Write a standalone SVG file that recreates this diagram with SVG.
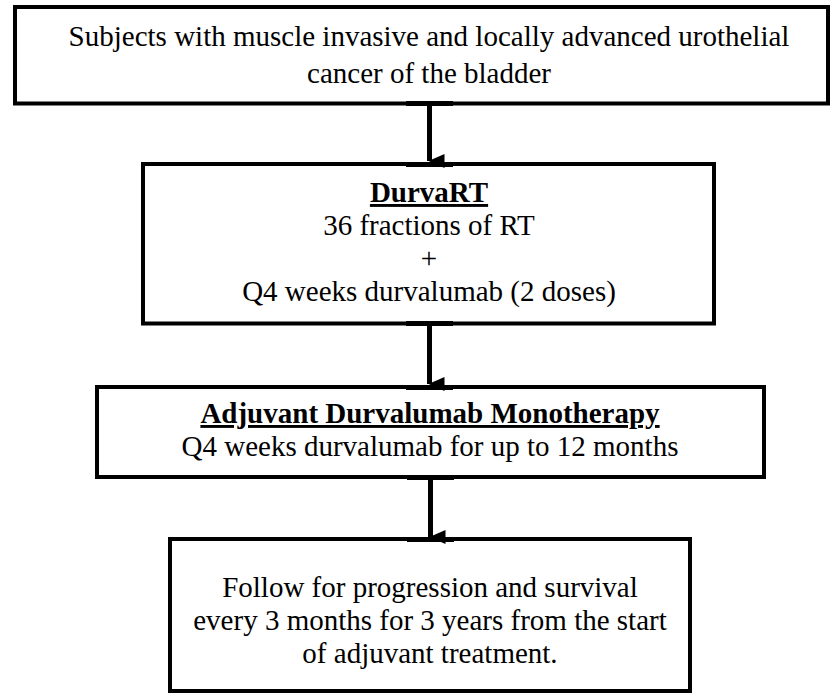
<svg xmlns="http://www.w3.org/2000/svg" width="830" height="694" viewBox="0 0 830 694">
<style>
.box{fill:#fff;stroke:#000;stroke-width:4}
.t{font-family:"Liberation Serif","Times New Roman",serif;font-size:29px;fill:#000;text-anchor:middle}
.b{font-weight:bold;text-decoration:underline}
.conn{stroke:#000;stroke-width:5;fill:none}
.joint{fill:#000}
</style>
<defs>
<marker id="ah" markerUnits="userSpaceOnUse" markerWidth="14" markerHeight="16" refX="7" refY="15" orient="auto-start-reverse" viewBox="0 0 14 16">
<path d="M0,0 L14,0 L7,16 Z" fill="#000"/>
</marker>
</defs>
<rect width="830" height="694" fill="#fff"/>
<g id="n1">
<rect class="box" x="15" y="7" width="813" height="96.5"/>
<text class="t" x="429" y="46">Subjects with muscle invasive and locally advanced urothelial</text>
<text class="t" x="429" y="83">cancer of the bladder</text>
</g>
<g id="n2">
<rect class="box" x="143" y="164" width="571" height="159.5"/>
<text class="t b" x="429" y="202">DurvaRT</text>
<text class="t" x="429" y="235">36 fractions of RT</text>
<text class="t" x="429" y="268">+</text>
<text class="t" x="429" y="301">Q4 weeks durvalumab (2 doses)</text>
</g>
<g id="n3">
<rect class="box" x="97" y="387" width="667" height="90"/>
<text class="t b" x="430" y="423">Adjuvant Durvalumab Monotherapy</text>
<text class="t" x="430" y="456">Q4 weeks durvalumab for up to 12 months</text>
</g>
<g id="n4">
<rect class="box" x="170" y="539" width="520" height="152"/>
<text class="t" x="430" y="597">Follow for progression and survival</text>
<text class="t" x="430" y="630">every 3 months for 3 years from the start</text>
<text class="t" x="430" y="663">of adjuvant treatment.</text>
</g>
<g id="connectors">
<rect class="joint" x="406" y="101" width="47" height="5"/>
<line class="conn" x1="429.5" y1="105" x2="429.5" y2="161" marker-end="url(#ah)"/>
<rect class="joint" x="406" y="162" width="47" height="5"/>
<rect class="joint" x="406" y="321" width="47" height="5"/>
<line class="conn" x1="429.5" y1="325" x2="429.5" y2="384" marker-end="url(#ah)"/>
<rect class="joint" x="406" y="385" width="47" height="5"/>
<rect class="joint" x="407" y="475" width="47" height="5"/>
<line class="conn" x1="430.5" y1="479" x2="430.5" y2="537" marker-end="url(#ah)"/>
<rect class="joint" x="407" y="537" width="47" height="5"/>
</g>
</svg>
